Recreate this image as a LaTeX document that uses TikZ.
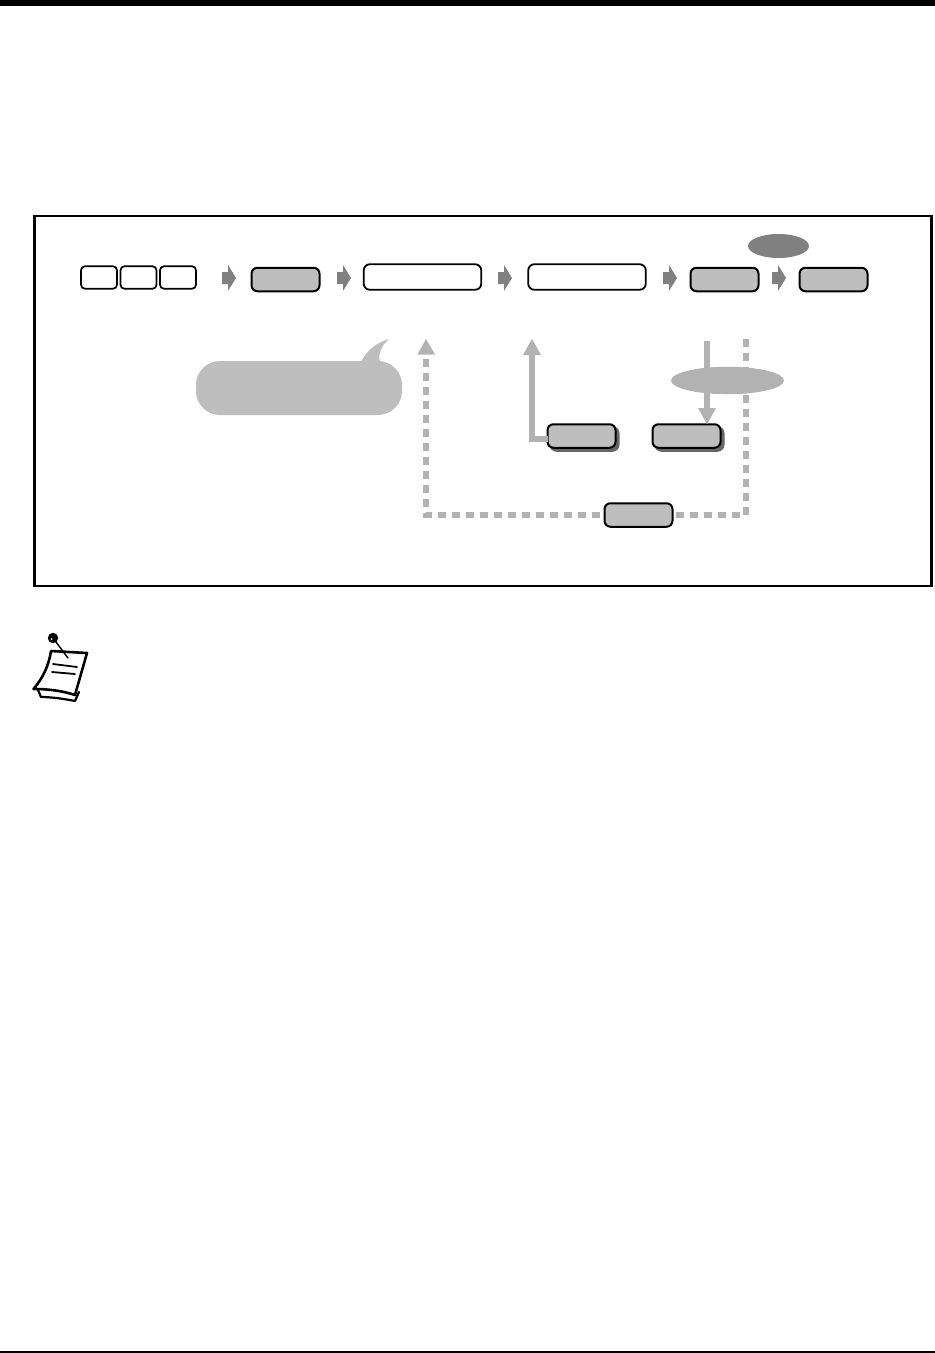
\documentclass[tikz,border=0pt]{standalone}
\usetikzlibrary{shapes.geometric}
\definecolor{boxgray}{HTML}{BEBEBE}
\definecolor{flowgray}{HTML}{B2B2B2}
\definecolor{darkgray2}{HTML}{808080}
\definecolor{shadowgray}{HTML}{666666}
\tikzset{
  x=1pt,y=-1pt,
  keybox/.style={draw=black,line width=1.7pt,rounded corners=4pt,fill=white,minimum width=36pt,minimum height=22.5pt,inner sep=0pt,outer sep=0pt},
  whitebox/.style={draw=black,line width=1.8pt,rounded corners=6pt,fill=white,minimum width=117.5pt,minimum height=25.5pt,inner sep=0pt,outer sep=0pt},
  graybox/.style={draw=black,line width=2pt,rounded corners=6pt,fill=boxgray,minimum width=68pt,minimum height=23.5pt,inner sep=0pt,outer sep=0pt},
  boxshadow/.style={draw=shadowgray,line width=2pt,rounded corners=6pt,fill=shadowgray,minimum width=68pt,minimum height=23.5pt,inner sep=0pt,outer sep=0pt},
  fatarrow/.style={fill=darkgray2,draw=none},
  flowsolid/.style={draw=flowgray,line width=6pt},
  flowdash/.style={draw=flowgray,line width=6pt,dash pattern=on 8pt off 6pt},
  flowhead/.style={fill=flowgray,draw=none},
}
\newcommand{\fatarrowat}[2]{%
  \fill[fatarrow] (#1,#2-6) -- (#1+6,#2-6) -- (#1+6,#2-13) -- (#1+14,#2) -- (#1+6,#2+13) -- (#1+6,#2+6) -- (#1,#2+6) -- cycle;}
\begin{document}
\begin{tikzpicture}
\useasboundingbox (0,0) rectangle (935,1353);
\fill[white] (0,0) rectangle (935,1353);
% page rules
\fill[black] (0,0) rectangle (935,6);
\fill[black] (0,1351) rectangle (935,1352.6);
% frame
\node[draw=black,line width=2.4pt,minimum width=897pt,minimum height=369.5pt,inner sep=0pt] (frame) at (483,401) {};

% routing points
\coordinate (upA) at (426,339);
\coordinate (upB) at (532,339);
\coordinate (downstart) at (707,341);
\coordinate (dashstart) at (745.5,339);
\coordinate (cornerL) at (426,515);
\coordinate (cornerR) at (745.5,515);
\coordinate (elbow) at (532,438.5);

% nodes of the bottom rows
\node[boxshadow] at (584.5,439) {};
\node[graybox] (ret1) at (581.5,436) {};
\node[boxshadow] at (689.5,439) {};
\node[graybox] (ret2) at (686.5,436) {};

% connectors
\draw[flowdash] (dashstart) -- (cornerR) -- (cornerL) -- (426,357);
\fill[flowhead] (upA) -- (435,354.5) -- (417.5,354.5) -- cycle;
\draw[flowsolid] (elbow -| ret1.west) -- (elbow) -- (532,354);
\fill[flowhead] (upB) -- (541,355) -- (523,355) -- cycle;
\draw[flowsolid] (downstart) -- (707,410);
\fill[flowhead] (ret2.north -| downstart) -- (716,408) -- (698,408) -- cycle;

\node[graybox] (ret3) at (638.5,515) {};
\node[ellipse,fill=flowgray,minimum width=113pt,minimum height=27.5pt,inner sep=0pt] (cond) at (727.5,380.5) {};

% top row
\node[keybox] (k1) at (99,277.5) {};
\node[keybox] (k2) at (138.5,277.5) {};
\node[keybox] (k3) at (178,277.5) {};
\node[graybox] (g1) at (285.5,279.5) {};
\node[whitebox] (w1) at (422.5,277) {};
\node[whitebox] (w2) at (587,277) {};
\node[graybox] (g2) at (724.5,279.5) {};
\node[graybox] (g3) at (833.5,279.5) {};
\node[ellipse,fill=darkgray2,minimum width=61pt,minimum height=24pt,inner sep=0pt] (top) at (778.5,246) {};
\fatarrowat{222}{278}
\fatarrowat{337}{278}
\fatarrowat{498}{278}
\fatarrowat{663}{278}
\fatarrowat{772}{278}

% speech bubble
\fill[boxgray,rounded corners=24pt] (196,361) rectangle (402,415);
\fill[boxgray] (361,362) .. controls (367,350) and (376,343) .. (389,339) .. controls (381,346) and (378,354) .. (380,362) -- cycle;

% note icon
\begin{scope}[line cap=round,line join=round]
\draw[black,line width=2.2pt,fill=white] (38,690) -- (41,697) .. controls (52,697) and (65,699) .. (75,701) -- (79,692);
\draw[black,line width=2.6pt,fill=white] (51,651) -- (87,653) -- (75,695) .. controls (60,690) and (45,689) .. (33.5,689) .. controls (43,678) and (49,665) .. (51,651) -- cycle;
\draw[black,line width=1.8pt] (53,664) -- (77,667);
\draw[black,line width=1.8pt] (52,672) -- (75,674);
\draw[black,line width=1.4pt] (53,638) -- (68,658);
\fill[black] (53,638) circle (5.2);
\fill[white] (51.5,639) circle (1);
\end{scope}
\end{tikzpicture}
\end{document}
